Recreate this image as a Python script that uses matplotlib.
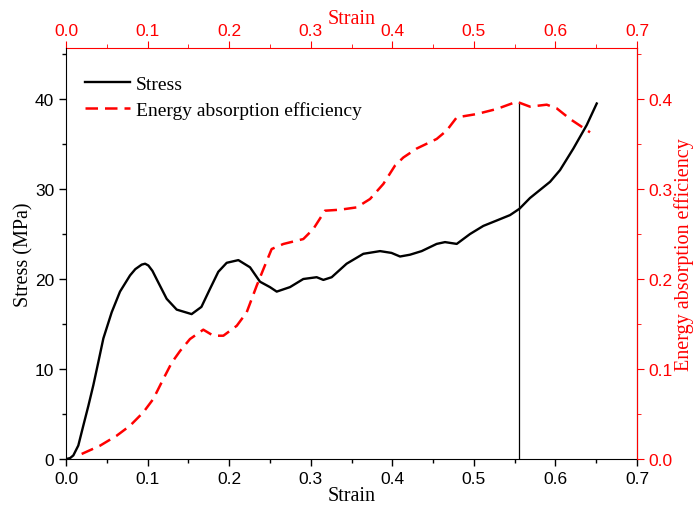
import numpy as np
import matplotlib.pyplot as plt
from matplotlib.ticker import MultipleLocator

# stress-strain curve (left axis)
strain = [0.0, 0.005, 0.009, 0.0151, 0.0212, 0.0274, 0.0335, 0.0397, 0.0458, 0.056,
          0.0662, 0.0785, 0.085, 0.0928, 0.097, 0.101, 0.106, 0.111, 0.1234, 0.1357,
          0.154, 0.166, 0.1765, 0.1867, 0.197, 0.2113, 0.2256, 0.2378, 0.25, 0.2583,
          0.2746, 0.2909, 0.3073, 0.3155, 0.3257, 0.344, 0.3645, 0.385, 0.399, 0.4095,
          0.4217, 0.436, 0.4544, 0.4646, 0.479, 0.4953, 0.5116, 0.528, 0.5443, 0.5558,
          0.5688, 0.5811, 0.5934, 0.6056, 0.622, 0.6383, 0.6506]
stress = [0.0, 0.1, 0.4, 1.5, 3.7, 5.9, 8.2, 10.8, 13.4, 16.3,
          18.6, 20.4, 21.1, 21.6, 21.7, 21.5, 20.9, 20.0, 17.8, 16.6,
          16.1, 16.9, 18.9, 20.8, 21.8, 22.1, 21.3, 19.7, 19.1, 18.6,
          19.1, 20.0, 20.2, 19.9, 20.2, 21.7, 22.8, 23.1, 22.9, 22.5,
          22.7, 23.1, 23.9, 24.1, 23.9, 25.0, 25.9, 26.5, 27.1, 27.8,
          29.0, 29.9, 30.8, 32.1, 34.5, 37.1, 39.5]

# energy absorption efficiency (right axis)
eff_strain = [0.0192, 0.0417, 0.0621, 0.0785, 0.0948, 0.107, 0.1193, 0.1296, 0.1398, 0.152,
              0.1683, 0.1806, 0.1929, 0.2093, 0.2215, 0.2338, 0.242, 0.2521, 0.2664, 0.2909,
              0.3032, 0.3175, 0.336, 0.3564, 0.3727, 0.389, 0.4033, 0.4135, 0.43, 0.4544,
              0.4667, 0.479, 0.5035, 0.528, 0.5525, 0.5688, 0.5893, 0.6016, 0.6179, 0.6424]
efficiency = [0.0056, 0.0148, 0.0259, 0.037, 0.0519, 0.0667, 0.0889, 0.107, 0.120, 0.1333,
              0.1437, 0.137, 0.137, 0.148, 0.163, 0.1926, 0.211, 0.2333, 0.2389, 0.2444,
              0.2556, 0.2759, 0.277, 0.2796, 0.2889, 0.3056, 0.326, 0.335, 0.345, 0.3556,
              0.365, 0.3796, 0.3833, 0.3889, 0.397, 0.3915, 0.3937, 0.3896, 0.3778, 0.363]

# marker line at peak efficiency
peak_strain = 0.5558
peak_stress = 39.7

x_ticks = [0.0, 0.1, 0.2, 0.3, 0.4, 0.5, 0.6, 0.7]

serif = 'Liberation Serif'
sans = 'Liberation Sans'

fig = plt.figure(figsize=(6.94, 5.06), dpi=100)
ax = fig.add_axes([0.0951, 0.0909, 0.8228, 0.8123])
ax2 = ax.twinx()

l1, = ax.plot(strain, stress, color='black', lw=1.7, label='Stress')
ax.plot([peak_strain, peak_strain], [0, peak_stress], color='black', lw=0.9)
l2, = ax2.plot(eff_strain, efficiency, color='red', lw=1.8, ls=(0, (5, 2.8)),
               label='Energy absorption efficiency')

ax.set_xlim(0, 0.7)
ax.set_ylim(0, 45.67)
ax2.set_ylim(0, 0.4567)

ax.set_xticks(x_ticks)
ax.xaxis.set_minor_locator(MultipleLocator(0.05))
ax.yaxis.set_major_locator(MultipleLocator(10))
ax.yaxis.set_minor_locator(MultipleLocator(5))
ax2.yaxis.set_major_locator(MultipleLocator(0.1))
ax2.yaxis.set_minor_locator(MultipleLocator(0.05))

# top strain axis in red
top = ax.secondary_xaxis('top')
top.set_xticks(x_ticks)
top.xaxis.set_minor_locator(MultipleLocator(0.05))
top.set_xlabel('Strain', color='red', fontfamily=serif, fontsize=14.5, labelpad=0)
top.tick_params(axis='x', which='both', colors='red', direction='out')
top.spines['top'].set_color('red')

for a in (ax, ax2):
    a.spines['top'].set_visible(False)
ax2.spines['right'].set_color('red')
ax2.spines['left'].set_visible(False)
ax2.spines['bottom'].set_visible(False)

ax.tick_params(which='major', length=5, width=1, labelsize=12.5)
ax.tick_params(which='minor', length=3, width=1)
ax2.tick_params(axis='y', which='both', colors='red', labelsize=12.5)
ax2.tick_params(which='major', length=5)
ax2.tick_params(which='minor', length=3)
top.tick_params(which='major', length=5, labelsize=12.5, pad=2)
top.tick_params(which='minor', length=3)

ax.set_xticklabels([f'{v:.1f}' for v in x_ticks], fontfamily=sans)
top.set_xticklabels([f'{v:.1f}' for v in x_ticks], fontfamily=sans)
ax2.yaxis.set_major_formatter(lambda v, p: f'{v:.1f}')
for lab in ax.get_yticklabels() + ax2.get_yticklabels():
    lab.set_fontfamily(sans)

ax.set_xlabel('Strain', fontfamily=serif, fontsize=14.5, labelpad=0)
ax.set_ylabel('Stress (MPa)', fontfamily=serif, fontsize=14.5, labelpad=1)
ax2.set_ylabel('Energy absorption efficiency', color='red', fontfamily=serif,
               fontsize=14.5, labelpad=1)

ax2.legend(handles=[l1, l2], loc='upper left', bbox_to_anchor=(0, 0.98),
           frameon=False, prop={'family': serif, 'size': 14}, handlelength=2.3,
           handletextpad=0.3, borderaxespad=0.6, labelspacing=0.4)

fig.savefig('out.png', dpi=100)
